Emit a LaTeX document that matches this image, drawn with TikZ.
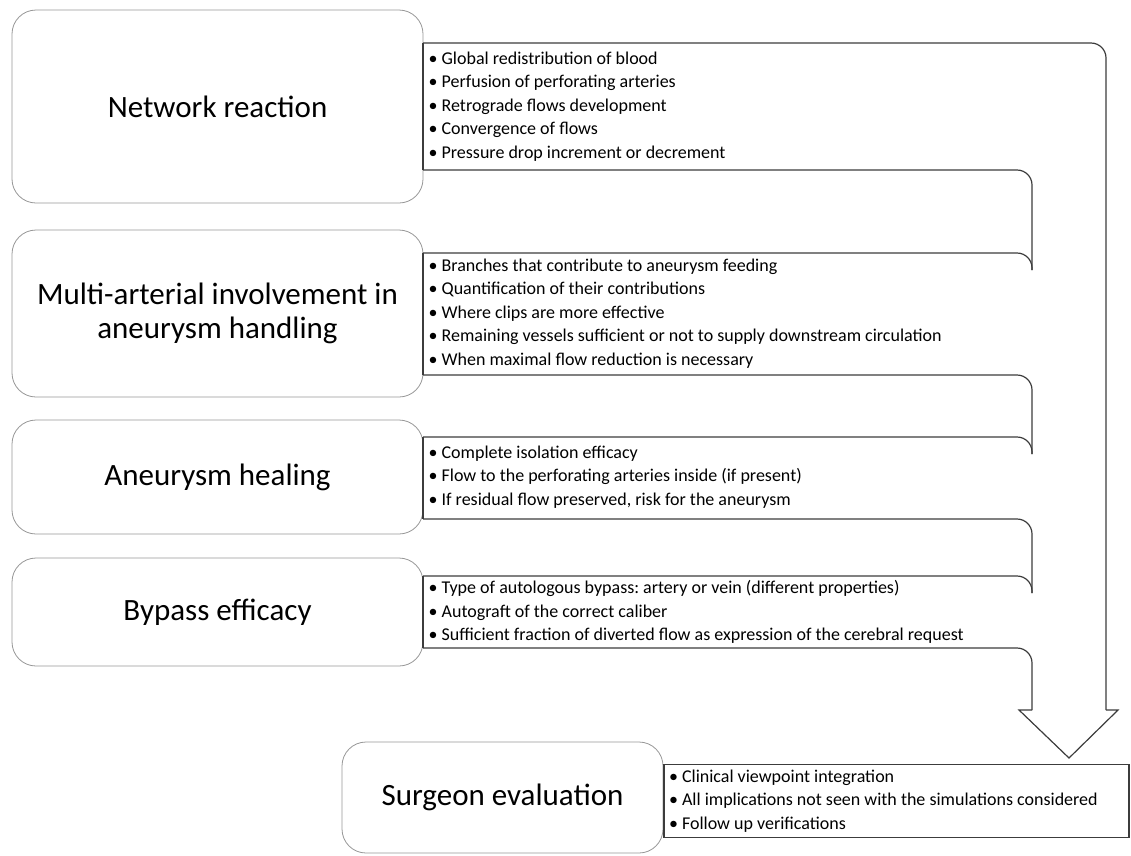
\documentclass[tikz,border=0pt]{standalone}
\usepackage{fontspec}
\setmainfont{Carlito}
\frenchspacing
\usetikzlibrary{positioning}
\definecolor{BoxColor}{RGB}{150,150,150}
\definecolor{LineColor}{RGB}{60,60,60}
\tikzstyle{stage} = [draw=BoxColor, line width=0.8pt, rounded corners=24pt, minimum width=411pt, align=center, inner sep=0pt, font=\fontsize{31}{34}\selectfont]
\tikzstyle{points} = [align=left, inner sep=5pt, font=\fontsize{18}{23.5}\selectfont]
\tikzstyle{rail} = [draw=LineColor, line width=1.2pt, rounded corners=15pt]
\tikzstyle{sideline} = [draw=LineColor, line width=1.2pt]

\begin{document}
\begin{tikzpicture}[x=1pt, y=-1pt]
                \useasboundingbox (0,0) rectangle (1131,855);

                % Stages on the left
                \node[stage, minimum height=193pt] (network) at (217.5,106.5) {Network reaction};
                \node[stage, minimum height=167pt] (multiart) at (217.5,313.5) {Multi-arterial involvement in\\aneurysm handling};
                \node[stage, minimum height=114pt] (healing) at (217.5,477) {Aneurysm healing};
                \node[stage, minimum height=108pt] (bypass) at (217.5,612) {Bypass efficacy};
                \node[stage, minimum width=321pt, minimum height=111pt] (surgeon) at (502.5,797.5) {Surgeon evaluation};

                % Bullet points
                \node[points, right=0pt of network] (networkpts) {• Global redistribution of blood\\• Perfusion of perforating arteries\\• Retrograde flows development\\• Convergence of flows\\• Pressure drop increment or decrement};
                \node[points, right=0pt of multiart] (multiartpts) {• Branches that contribute to aneurysm feeding\\• Quantification of their contributions\\• Where clips are more effective\\• Remaining vessels sufficient or not to supply downstream circulation\\• When maximal flow reduction is necessary};
                \node[points, right=0pt of healing] (healingpts) {• Complete isolation efficacy\\• Flow to the perforating arteries inside (if present)\\• If residual flow preserved, risk for the aneurysm};
                \node[points, right=0pt of bypass] (bypasspts) {• Type of autologous bypass: artery or vein (different properties)\\• Autograft of the correct caliber\\• Sufficient fraction of diverted flow as expression of the cerebral request};
                \node[points, align=flush left, draw=LineColor, line width=1.2pt, text width=455pt, minimum height=72pt, right=0pt of surgeon, yshift=-3.5pt] (surgeonpts) {• Clinical viewpoint integration\\• All implications not seen with the simulations considered\\• Follow up verifications};

                % Left sides of the panels
                \draw[sideline] (423,43) -- (423,170);
                \draw[sideline] (423,253) -- (423,375);
                \draw[sideline] (423,437) -- (423,519);
                \draw[sideline] (423,576) -- (423,648);

                % Brackets between panels
                \foreach \b/\t in {170/253, 375/437, 519/576} {
                    \draw[rail] (423,\b) -- (1032,\b) -- (1032,\t+17);
                    \draw[rail] (423,\t) -- (1032,\t) -- (1032,\t+17);
                }

                % Big arrow down to the surgeon
                \draw[rail] (423,43) -- (1106,43) -- (1106,710);
                \draw[sideline] (1106,710) -- (1118,710) -- (1069,758) -- (1019,710) -- (1032,710);
                \draw[rail] (1032,710) -- (1032,648) -- (423,648);
            \end{tikzpicture}
\end{document}
